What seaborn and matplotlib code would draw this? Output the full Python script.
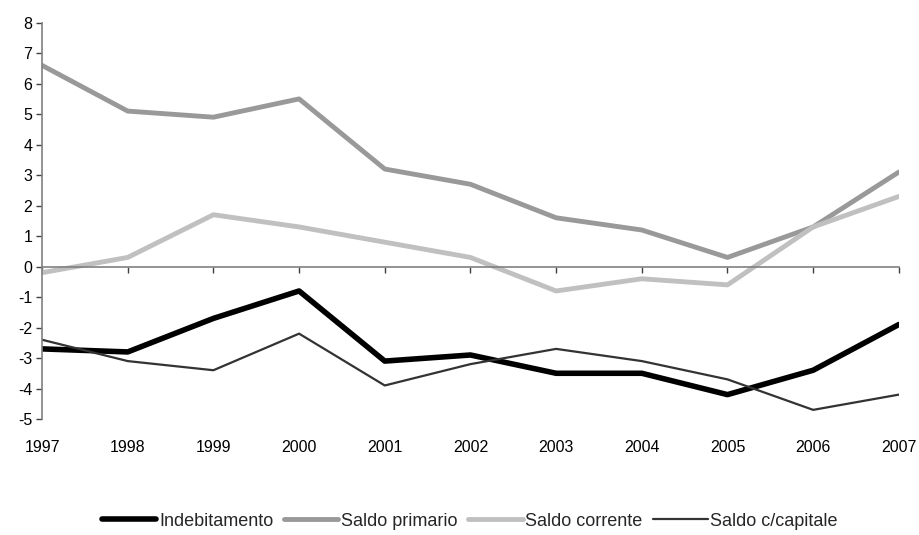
import matplotlib
matplotlib.use("Agg")
import matplotlib.pyplot as plt
import seaborn as sns
import pandas as pd

sns.set_theme(style="white")
plt.rcParams["font.family"] = ["Liberation Sans", "DejaVu Sans"]
plt.rcParams["axes.unicode_minus"] = False

# --- data ---
years = [1997, 1998, 1999, 2000, 2001, 2002, 2003, 2004, 2005, 2006, 2007]
indebitamento = [-2.7, -2.8, -1.7, -0.8, -3.1, -2.9, -3.5, -3.5, -4.2, -3.4, -1.9]
saldo_primario = [6.6, 5.1, 4.9, 5.5, 3.2, 2.7, 1.6, 1.2, 0.3, 1.3, 3.1]
saldo_corrente = [-0.2, 0.3, 1.7, 1.3, 0.8, 0.3, -0.8, -0.4, -0.6, 1.3, 2.3]
saldo_capitale = [-2.4, -3.1, -3.4, -2.2, -3.9, -3.2, -2.7, -3.1, -3.7, -4.7, -4.2]

series_names = ["Indebitamento", "Saldo primario", "Saldo corrente", "Saldo c/capitale"]
series_values = [indebitamento, saldo_primario, saldo_corrente, saldo_capitale]
colors = ["#000000", "#999999", "#c0c0c0", "#333333"]
widths = [4.0, 3.5, 3.5, 1.6]

df = pd.DataFrame({"anno": years})
for name, vals in zip(series_names, series_values):
    df[name] = vals

fig = plt.figure(figsize=(9.2, 5.35), dpi=100)
ax = fig.add_axes([0.0457, 0.2168, 0.977 - 0.0457, 0.9576 - 0.2168])

for name, col, lw in zip(series_names, colors, widths):
    sns.lineplot(data=df, x="anno", y=name, color=col, linewidth=lw,
                 label=name, ax=ax, legend=False)

ax.set_xlim(1997, 2007)
ax.set_ylim(-5, 8)
ax.set_yticks(range(-5, 9))
ax.set_xticks(years)
ax.set_xlabel("")
ax.set_ylabel("")

# axis styling: left spine + zero line with ticks
spine_col = "#808080"
for s in ["top", "right"]:
    ax.spines[s].set_visible(False)
ax.spines["left"].set_color(spine_col)
ax.spines["left"].set_linewidth(1.2)
ax.spines["bottom"].set_position(("data", 0))
ax.spines["bottom"].set_color(spine_col)
ax.spines["bottom"].set_linewidth(1.2)
ax.tick_params(axis="x", direction="out", length=4, width=1, color="#404040",
               labelbottom=False, bottom=True)
ax.tick_params(axis="y", direction="out", length=4, width=1, color="#404040",
               left=True, labelsize=11.5, labelcolor="black", pad=3)

# year labels along the bottom of the plot
sec = ax.secondary_xaxis("bottom")
sec.set_xticks(years)
sec.set_xticklabels([str(y) for y in years])
sec.spines["bottom"].set_visible(False)
sec.tick_params(axis="x", length=0, pad=15, labelsize=11.5, labelcolor="black")

handles, labels = ax.get_legend_handles_labels()
fig.legend(handles, labels, loc="center", bbox_to_anchor=(470 / 920, 0.026),
           ncol=4, frameon=False, fontsize=13, handlelength=3.0,
           handletextpad=0.15, columnspacing=0.6)

fig.savefig("out.png", dpi=100)
